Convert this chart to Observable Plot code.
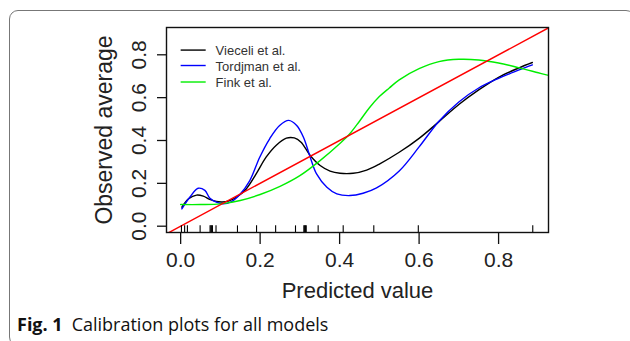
<!DOCTYPE html>
<html>
<head>
<meta charset="utf-8">
<script src="https://cdn.jsdelivr.net/npm/d3@7"></script>
<script src="https://cdn.jsdelivr.net/npm/@observablehq/plot@0.6"></script>
<style>
  html, body { margin: 0; padding: 0; background: #fff; width: 630px; height: 341px; overflow: hidden; }
  #wrap { position: relative; width: 630px; height: 341px; }
  #border { position: absolute; left: 9px; top: 10px; width: 626px; height: 336px; box-sizing: border-box;
            border: 1.3px solid #777; border-radius: 9px; pointer-events: none; }
  #chart { position: absolute; left: 0; top: 0; }
  #chart svg { display: block; background: transparent; }
  #caption { position: absolute; left: 17px; top: 313px; font-family: "Open Sans", "Noto Sans", sans-serif;
             font-size: 18px; line-height: 22px; color: #111; white-space: nowrap; }
  #caption b { font-weight: 700; margin-right: 9px; }
</style>
</head>
<body>
<div id="wrap">
  <div id="border"></div>
  <div id="chart"></div>
  <div id="caption"><b>Fig. 1</b>Calibration plots for all models</div>
</div>
<script>
// ---- data ----
const seriesNames = ["Vieceli et al.", "Tordjman et al.", "Fink et al."];

const vieceliX = [0.003,0.02,0.04,0.057,0.073,0.09,0.105,0.12,0.14,0.165,0.19,0.215,0.24,0.266,0.286,0.303,0.326,0.351,0.376,0.401,0.434,0.468,0.5,0.55,0.6,0.65,0.7,0.75,0.8,0.85,0.885];
const vieceliY = [0.089,0.128,0.145,0.14,0.125,0.115,0.113,0.117,0.135,0.174,0.244,0.322,0.377,0.411,0.412,0.392,0.33,0.283,0.257,0.247,0.247,0.262,0.29,0.345,0.41,0.488,0.568,0.636,0.695,0.738,0.764];

const tordjmanX = [0.003,0.023,0.044,0.061,0.073,0.09,0.107,0.128,0.149,0.174,0.199,0.224,0.249,0.272,0.292,0.309,0.326,0.342,0.368,0.393,0.426,0.459,0.493,0.55,0.6,0.65,0.7,0.75,0.8,0.85,0.885];
const tordjmanY = [0.081,0.135,0.177,0.167,0.132,0.112,0.104,0.115,0.148,0.213,0.322,0.408,0.47,0.494,0.47,0.415,0.322,0.244,0.182,0.151,0.143,0.154,0.179,0.258,0.37,0.49,0.58,0.645,0.69,0.728,0.753];

const finkX = [0,0.05,0.1,0.15,0.2,0.25,0.3,0.35,0.4,0.425,0.45,0.475,0.5,0.525,0.55,0.6,0.65,0.7,0.75,0.8,0.85,0.9,0.923];
const finkY = [0.101,0.101,0.104,0.12,0.148,0.186,0.236,0.305,0.385,0.43,0.49,0.553,0.605,0.645,0.683,0.735,0.768,0.779,0.776,0.762,0.74,0.716,0.705];

const rugValues = [0.002,0.01,0.017,0.049,0.074,0.076,0.078,0.08,0.089,0.143,0.191,0.239,0.289,0.31,0.312,0.314,0.316,0.346,0.409,0.486,0.598,0.886];

const xTicks = [0, 0.2, 0.4, 0.6, 0.8];
const yTicks = [0, 0.2, 0.4, 0.6, 0.8];
const diagonal = [-0.1, 1.0];

// ---- build ----
const xDomain = [-0.0356, 0.9256];
const yDomain = [-0.0294, 0.9274];
const colors = ["#000000", "#0000ff", "#00ee00"];
const seriesX = [vieceliX, tordjmanX, finkX];
const seriesY = [vieceliY, tordjmanY, finkY];
const rows = seriesNames.map((name, s) => seriesX[s].map((x, i) => ({name, x, y: seriesY[s][i]}))).flat();

// legend layout (data units)
const legX1 = 0.0, legX2 = 0.063, legTextX = 0.088;
const legY = [0.822, 0.75, 0.673];
const legend = seriesNames.map((name, i) => ({name, y: legY[i]}));

const fmt = d3.format(".1f");

const chart = Plot.plot({
  width: 630,
  height: 310,
  marginLeft: 166,
  marginRight: 82,
  marginTop: 27,
  marginBottom: 78,
  x: {domain: xDomain, axis: null},
  y: {domain: yDomain, axis: null},
  color: {domain: seriesNames, range: colors},
  style: {fontFamily: "'Liberation Sans', Arial, sans-serif", color: "#222", background: "transparent", overflow: "visible"},
  marks: [
    Plot.line(rows, {x: "x", y: "y", z: "name", stroke: "name", strokeWidth: 1.4, curve: "catmull-rom"}),
    Plot.line(diagonal, {x: d => d, y: d => d, stroke: "#ff0000", strokeWidth: 1.4, clip: true}),
    Plot.ruleX(rugValues, {x: d => d, y1: yDomain[0], y2: yDomain[0] + 0.031, stroke: "#000", strokeWidth: 1.1}),
    Plot.frame({stroke: "#111", strokeWidth: 1.4}),
    Plot.axisX(xTicks, {tickSize: 12, tickPadding: 8, fontSize: 21, tickFormat: fmt, label: null, stroke: "#111", strokeWidth: 1.3}),
    Plot.axisY(yTicks, {tickSize: 9, tickFormat: () => "", label: null, stroke: "#111", strokeWidth: 1.3}),
    Plot.text(yTicks, {y: d => d, frameAnchor: "left", dx: -21, rotate: -90, text: fmt, textAnchor: "middle", lineAnchor: "bottom", fontSize: 21, fill: "#222"}),
    Plot.text(["Observed average"], {frameAnchor: "left", dx: -54.5, rotate: -90, textAnchor: "middle", lineAnchor: "bottom", fontSize: 23, fill: "#222"}),
    Plot.text(["Predicted value"], {frameAnchor: "bottom", dy: 65, textAnchor: "middle", lineAnchor: "bottom", fontSize: 22, fill: "#222"}),
    Plot.link(legend, {x1: legX1, x2: legX2, y1: "y", y2: "y", stroke: "name", strokeWidth: 1.4}),
    Plot.text(legend, {x: legTextX, y: "y", text: "name", textAnchor: "start", lineAnchor: "middle", dy: 1, fontSize: 13, fill: "#333"})
  ]
});
document.getElementById("chart").appendChild(chart);
</script>
</body>
</html>
